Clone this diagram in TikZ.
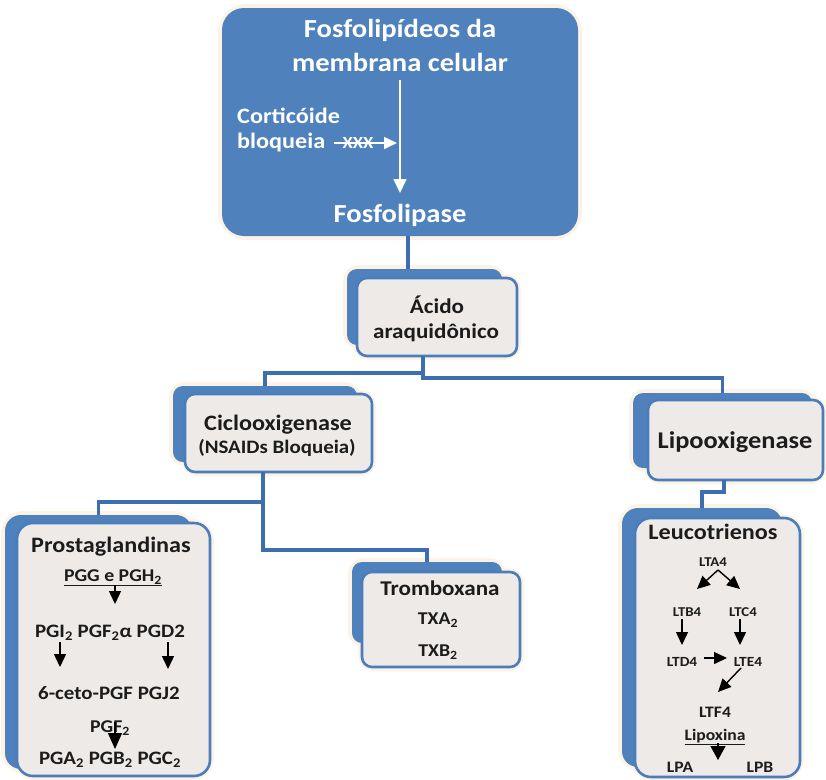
\documentclass[tikz,border=0pt]{standalone}
\usepackage{fontspec}
\setmainfont{Carlito}[FakeStretch=1.1]
\usetikzlibrary{arrows.meta}

\definecolor{boxblue}{HTML}{4F81BD}
\definecolor{edgeblue}{HTML}{4A7DBA}
\definecolor{linkblue}{HTML}{3D6EB0}
\definecolor{paper}{HTML}{EDEAE8}
\definecolor{glow}{HTML}{FCF3E6}
\definecolor{ink}{HTML}{1C1C1C}

\pgfdeclarelayer{haze}
\pgfsetlayers{haze,main}

\newcommand\fsz[1]{\fontsize{#1}{#1}\selectfont}
\newcommand\glowaround[2]{\draw[haloline,rounded corners=#2] (#1.north west) rectangle (#1.south east);}

\begin{document}
\begin{tikzpicture}[x=1pt,y=-1pt,
  topbox/.style={fill=boxblue, rounded corners=22pt, inner sep=0pt, outer sep=0pt},
  backbox/.style={fill=boxblue, rounded corners=10pt, inner sep=0pt, outer sep=0pt},
  frontbox/.style={fill=paper, draw=edgeblue, line width=2.6pt, rounded corners=10pt, inner sep=0pt, outer sep=0pt},
  haloline/.style={draw=glow, line width=8pt},
  link/.style={draw=linkblue, line width=3.2pt},
  toptext/.style={text=white, inner sep=0pt},
  lbl/.style={text=ink, inner sep=0pt},
  whitearrow/.style={draw=white, line width=1.6pt, -{Triangle[width=13pt,length=14pt]}},
  blackarrow/.style={draw=black, line width=1.4pt, -{Triangle[width=12pt,length=13pt]}},
  smallarrow/.style={draw=black, line width=1.4pt, -{Triangle[width=12pt,length=13pt]}},
]
\useasboundingbox (0,0) rectangle (826,779);
\clip (0,0) rectangle (826,779);

% ---------- boxes ----------
\node[topbox, minimum width=356pt, minimum height=228pt] (src) at (400,122) {};

\node[backbox, minimum width=155pt, minimum height=76pt] (acb) at (424.5,307) {};
\node[frontbox, minimum width=160pt, minimum height=78pt] (acf) at (437,317) {};

\node[backbox, minimum width=184pt, minimum height=76pt] (cib) at (265,424) {};
\node[frontbox, minimum width=187pt, minimum height=78pt] (cif) at (278.5,433) {};

\node[backbox, minimum width=179pt, minimum height=75pt] (lib) at (722.5,430.5) {};
\node[frontbox, minimum width=175pt, minimum height=80pt] (lif) at (735.5,440) {};

\node[backbox, rounded corners=16pt, minimum width=187pt, minimum height=254pt] (prb) at (98.5,642) {};
\node[frontbox, rounded corners=16pt, minimum width=193pt, minimum height=253pt] (prf) at (113.5,649.5) {};

\node[backbox, minimum width=150pt, minimum height=81pt] (trb) at (427,602.5) {};
\node[frontbox, minimum width=158pt, minimum height=95pt] (trf) at (441,619.5) {};

\node[backbox, rounded corners=16pt, minimum width=160pt, minimum height=259pt] (leb) at (702,637.5) {};
\node[frontbox, rounded corners=16pt, minimum width=165pt, minimum height=259pt] (lef) at (717.5,647.5) {};

% soft glow behind every box
\begin{pgfonlayer}{haze}
  \glowaround{src}{24pt}
  \glowaround{acb}{12pt}\glowaround{acf}{12pt}
  \glowaround{cib}{12pt}\glowaround{cif}{12pt}
  \glowaround{lib}{12pt}\glowaround{lif}{12pt}
  \glowaround{prb}{18pt}\glowaround{prf}{18pt}
  \glowaround{trb}{12pt}\glowaround{trf}{12pt}
  \glowaround{leb}{18pt}\glowaround{lef}{18pt}
\end{pgfonlayer}

% ---------- connectors ----------
\coordinate (kT) at (408,0);
\coordinate (kA) at (423,378);
\coordinate (kB) at (423,373);
\coordinate (kC) at (263,502);
\coordinate (kD) at (263,550);
\coordinate (kE) at (724,492);

\draw[link, line width=4pt] (src.south -| kT) -- (acb.north -| kT);
\draw[link] (acf.south -| kA) -- (kA) -- (kA -| lib.north) -- (lib.north);
\draw[link] (kB) -- (kB -| cib.north) -- (cib.north);
\draw[link] (cif.south -| kC) -- (kD) -- (kD -| trb.north) -- (trb.north);
\draw[link] (kC) -- (kC -| prb.north) -- (prb.north);
\draw[link] (lif.south -| kE) -- (kE) -- (kE -| leb.north) -- (leb.north);

% ---------- source box text ----------
\node[toptext, font=\bfseries\fsz{26}] (srcA) at (400,30) {Fosfolipídeos da};
\node[toptext, font=\bfseries\fsz{26}] (srcB) at (400,62) {membrana celular};
\node[toptext, font=\bfseries\fsz{22}, anchor=west] (cort) at (237,116) {Corticóide};
\node[toptext, font=\bfseries\fsz{22}, anchor=west] (bloq) at (237,143) {bloqueia};
\node[toptext, font=\bfseries\fsz{17}] (xxx) at (358,143) {XXX};
\node[toptext, font=\bfseries\fsz{26}] (fosf) at (400,215) {Fosfolipase};
\coordinate (vA) at (400,80);
\coordinate (vB) at (400,193);
\coordinate (hA) at (334,143);
\coordinate (hB) at (397,143);
\draw[whitearrow] (vA) -- (vB);
\draw[whitearrow, -{Triangle[width=12pt,length=13pt]}] (hA) -- (hB);

% ---------- second / third level labels ----------
\node[lbl, font=\bfseries\fsz{21}] (acA) at (437,305) {Ácido};
\node[lbl, font=\bfseries\fsz{21}] (acB) at (436,333) {araquidônico};

\node[lbl, font=\bfseries\fsz{22}] (ciA) at (278,425) {Ciclooxigenase};
\node[lbl, font=\bfseries\fsz{19}] (ciB) at (277,448) {(NSAIDs Bloqueia)};

\node[lbl, font=\bfseries\fsz{24}] (liA) at (735,442) {Lipooxigenase};

% ---------- prostaglandins ----------
\node[lbl, font=\bfseries\fsz{22}] (pgT) at (111,547) {Prostaglandinas};
\node[lbl, font=\bfseries\fsz{18}] (pg1) at (113,578) {\underline{PGG e PGH\textsubscript{2}}};
\node[lbl, font=\bfseries\fsz{19}] (pg2) at (110,633) {PGI\textsubscript{2} PGF\textsubscript{2}α PGD2};
\node[lbl, font=\bfseries\fsz{19}] (pg3) at (109,693) {6-ceto-PGF PGJ2};
\node[lbl, font=\bfseries\fsz{18}] (pg4) at (110,728) {PGF\textsubscript{2}};
\node[lbl, font=\bfseries\fsz{19}] (pg5) at (110,760) {PGA\textsubscript{2} PGB\textsubscript{2} PGC\textsubscript{2}};
\coordinate (p1a) at (115,585); \coordinate (p1b) at (115,604);
\coordinate (p2a) at (60,642);  \coordinate (p2b) at (60,667);
\coordinate (p3a) at (168,642); \coordinate (p3b) at (168,669);
\coordinate (p4a) at (115,722); \coordinate (p4b) at (115,749);
\draw[blackarrow] (p1a) -- (p1b);
\draw[blackarrow] (p2a) -- (p2b);
\draw[blackarrow] (p3a) -- (p3b);
\draw[blackarrow, -{Triangle[width=14pt,length=16pt]}] (p4a) -- (p4b);

% ---------- thromboxane ----------
\node[lbl, font=\bfseries\fsz{21}] (txT) at (440,588) {Tromboxana};
\node[lbl, font=\bfseries\fsz{18}] (tx1) at (438,620) {TXA\textsubscript{2}};
\node[lbl, font=\bfseries\fsz{18}] (tx2) at (438,652) {TXB\textsubscript{2}};

% ---------- leukotrienes ----------
\node[lbl, font=\bfseries\fsz{22}] (ltT) at (713,532) {Leucotrienos};
\node[lbl, font=\bfseries\fsz{13.5}] (lta) at (713,562) {LTA4};
\node[lbl, font=\bfseries\fsz{13.5}] (ltb) at (687,612) {LTB4};
\node[lbl, font=\bfseries\fsz{13.5}] (ltc) at (743,612) {LTC4};
\node[lbl, font=\bfseries\fsz{14}] (ltd) at (682,662) {LTD4};
\node[lbl, font=\bfseries\fsz{14}] (lte) at (748,662) {LTE4};
\node[lbl, font=\bfseries\fsz{16}] (ltf) at (715,712) {LTF4};
\node[lbl, font=\bfseries\fsz{16}] (lpx) at (715,737) {\underline{Lipoxina}};
\node[lbl, font=\bfseries\fsz{16}] (lpa) at (680,767) {LPA};
\node[lbl, font=\bfseries\fsz{16}] (lpb) at (760,767) {LPB};
\coordinate (l0) at (718,570);
\coordinate (l1) at (697,589); \coordinate (l2) at (740,589);
\coordinate (l3a) at (682,619); \coordinate (l3b) at (682,645);
\coordinate (l4a) at (740,619); \coordinate (l4b) at (740,645);
\coordinate (l5a) at (704,658); \coordinate (l5b) at (727,658);
\coordinate (l6a) at (741,668); \coordinate (l6b) at (718,692);
\coordinate (l7a) at (718,743); \coordinate (l7b) at (718,760);
\draw[smallarrow] (l0) -- (l1);
\draw[smallarrow] (l0) -- (l2);
\draw[smallarrow] (l3a) -- (l3b);
\draw[smallarrow] (l4a) -- (l4b);
\draw[smallarrow] (l5a) -- (l5b);
\draw[smallarrow] (l6a) -- (l6b);
\draw[smallarrow, -{Triangle[width=15pt,length=14pt]}] (l7a) -- (l7b);
\end{tikzpicture}
\end{document}
